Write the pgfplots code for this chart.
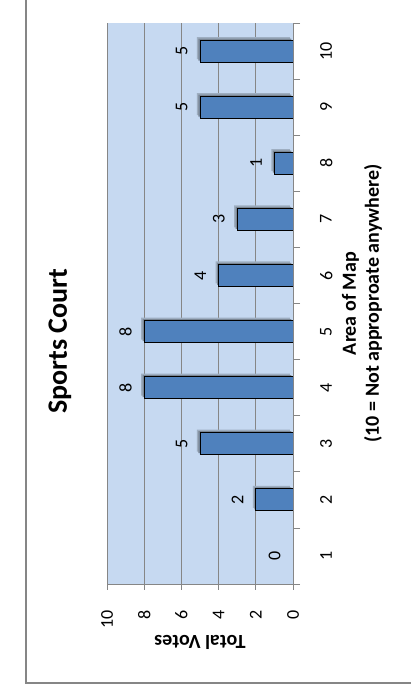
\documentclass[border=0pt]{standalone}
\usepackage{fontspec}
\setmainfont{Carlito}
\usepackage{pgfplots}
\pgfplotsset{compat=1.18}
\definecolor{plotbg}{HTML}{C6D9F1}
\definecolor{barblue}{HTML}{4F81BD}
\definecolor{gridgray}{HTML}{868686}
\colorlet{shadowA}{plotbg!80!black}
\colorlet{shadowB}{plotbg!62!black}
\begin{document}
\begin{tikzpicture}
\useasboundingbox (-107bp,-102bp) rectangle (304bp,584bp);
\draw[gridgray, line width=1.2bp] (-81bp,590bp) -- (-81bp,-99bp) -- (310bp,-99bp);
\begin{axis}[
  at={(0,0)}, anchor=south west,
  width=186bp, height=561bp, scale only axis,
  xbar, bar width=22bp, bar shift=0pt,
  x dir=reverse,
  xmin=0, xmax=10, ymin=0.5, ymax=10.5,
  axis background/.style={fill=plotbg},
  xtick={0,2,...,10},
  ytick={1,...,10},
  minor ytick={0.5,1.5,...,10.5},
  xtick pos=left, ytick pos=right,
  tick align=outside,
  major tick length=6bp, minor tick length=7bp,
  every major y tick/.style={draw=none},
  every tick/.style={gridgray, line width=0.8bp},
  xmajorgrids, major grid style={gridgray, line width=0.8bp},
  axis line style={draw=none},
  extra y ticks={0.5},
  extra y tick labels={},
  extra y tick style={grid=major},
  /pgf/number format/assume math mode=true,
  xticklabel style={font=\fontsize{18bp}{21bp}\selectfont, rotate=90, anchor=east, inner sep=0pt},
  xticklabel shift=20bp,
  yticklabel pos=right,
  yticklabel style={font=\fontsize{18bp}{21bp}\selectfont, rotate=90, anchor=north, inner sep=0pt},
  yticklabel shift=21bp,
  xlabel={Total Votes},
  xlabel style={font=\bfseries\fontsize{20bp}{24bp}\selectfont, at={(axis description cs:0.5,0)}, yshift=-58bp, rotate=180, anchor=center},
  ylabel={Area of Map\\(10 = Not approproate anywhere)},
  ylabel style={font=\bfseries\fontsize{20bp}{23bp}\selectfont, align=center, at={(axis description cs:1,0.5)}, anchor=center, yshift=-69bp},
  title={Sports Court},
  title style={font=\bfseries\fontsize{28bp}{34bp}\selectfont, at={(axis description cs:0,0.422)}, xshift=-40bp, rotate=90, anchor=base},
  nodes near coords,
  every node near coord/.append style={font=\fontsize{18bp}{21bp}\selectfont, xshift=-12bp, rotate=90, anchor=south, inner sep=0pt, text=black},
]
\addplot[fill=barblue, draw=black, line width=0.9bp,
  preaction={fill=shadowA, draw=none, transform canvas={xshift=-3bp, yshift=3bp}},
  preaction={fill=shadowB, draw=none, transform canvas={xshift=-1.5bp, yshift=1.5bp}}]
  coordinates {(2,2) (5,3) (8,4) (8,5) (4,6) (3,7) (1,8) (5,9) (5,10)};
\addplot[fill=barblue, draw=black, line width=0.9bp]
  coordinates {(0,1)};
\end{axis}
\end{tikzpicture}
\end{document}
